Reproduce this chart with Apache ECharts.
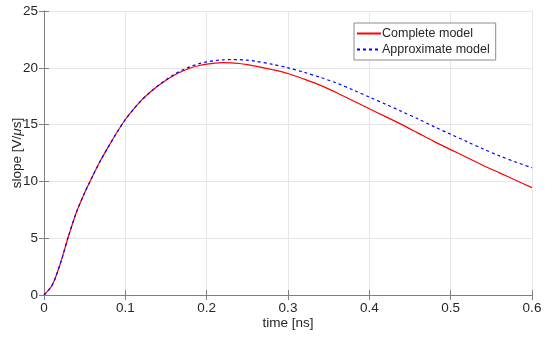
<!DOCTYPE html>
<html><head><meta charset="utf-8">
<script src="https://cdn.jsdelivr.net/npm/echarts@6/dist/echarts.min.js"></script>
<style>html,body{margin:0;padding:0;background:#fff}#c{width:550px;height:338px}</style>
</head><body><div id="c"></div>
<script>
const timeNs = [0, 0.01, 0.02, 0.03, 0.04, 0.05, 0.06, 0.07, 0.08, 0.09, 0.1, 0.11, 0.12, 0.13, 0.14, 0.15, 0.16, 0.17, 0.18, 0.19, 0.2, 0.21, 0.22, 0.23, 0.24, 0.25, 0.26, 0.28, 0.3, 0.32, 0.34, 0.36, 0.38, 0.4, 0.42, 0.44, 0.46, 0.48, 0.5, 0.52, 0.54, 0.56, 0.58, 0.6];
const completeModel = [0, 0.85, 2.75, 5.15, 7.3, 9.0, 10.5, 11.9, 13.15, 14.35, 15.45, 16.35, 17.15, 17.82, 18.4, 18.9, 19.35, 19.7, 19.98, 20.18, 20.32, 20.42, 20.45, 20.44, 20.38, 20.28, 20.15, 19.85, 19.5, 19.0, 18.45, 17.8, 17.1, 16.4, 15.7, 15.0, 14.25, 13.5, 12.8, 12.1, 11.4, 10.75, 10.1, 9.45];
const approximateModel = [0, 0.85, 2.75, 5.15, 7.3, 9.0, 10.5, 11.9, 13.15, 14.35, 15.45, 16.35, 17.15, 17.82, 18.42, 18.95, 19.42, 19.8, 20.1, 20.35, 20.52, 20.63, 20.7, 20.73, 20.72, 20.67, 20.58, 20.32, 20.0, 19.6, 19.15, 18.65, 18.05, 17.42, 16.8, 16.15, 15.5, 14.8, 14.15, 13.5, 12.85, 12.25, 11.7, 11.2];
const xTicks = [0, 0.1, 0.2, 0.3, 0.4, 0.5, 0.6];
const yTicks = [0, 5, 10, 15, 20, 25];

const toPairs = (xs, ys) => xs.map((x, i) => [x, ys[i]]);
const font = '"Liberation Sans", Arial, Helvetica, sans-serif';
const axisColor = '#808080';
const textColor = '#262626';

const chart = echarts.init(document.getElementById('c'));
chart.setOption({
  animation: false,
  grid: { left: 44, right: 18, top: 11, bottom: 43, show: false, containLabel: false, outerBoundsMode: 'none' },
  legend: {
    orient: 'vertical', left: 354, top: 23,
    backgroundColor: '#fff', borderColor: '#8c8c8c', borderWidth: 1, borderRadius: 0,
    padding: [4, 6, 4, 2], itemGap: 3, itemWidth: 24, itemHeight: 10,
    itemStyle: { opacity: 0 },
    textStyle: { fontFamily: font, fontSize: 12.5, color: textColor, padding: [0, 0, 0, -4] },
    data: ['Complete model', 'Approximate model']
  },
  xAxis: [{
    type: 'value', min: xTicks[0], max: xTicks[xTicks.length - 1], interval: 0.1,
    name: 'time [ns]', nameLocation: 'middle', nameGap: 21, nameMoveOverlap: false,
    nameTextStyle: { fontFamily: font, fontSize: 13.5, color: textColor },
    axisLine: { show: true, lineStyle: { color: axisColor, width: 1 } },
    axisTick: { show: true, inside: true, length: 5, lineStyle: { color: axisColor } },
    axisLabel: { fontFamily: font, fontSize: 13.5, color: textColor, margin: 6, formatter: v => String(+v.toFixed(1)) },
    splitLine: { show: true, lineStyle: { color: '#e6e6e6', width: 1 } }
  }, {
    type: 'value', position: 'top', min: xTicks[0], max: xTicks[xTicks.length - 1], interval: 0.1,
    axisLine: { show: true, lineStyle: { color: axisColor, width: 1 } },
    axisTick: { show: true, inside: true, length: 5, lineStyle: { color: axisColor } },
    axisLabel: { show: false }, splitLine: { show: false }
  }],
  yAxis: [{
    type: 'value', min: yTicks[0], max: yTicks[yTicks.length - 1], interval: 5,
    name: '{a|slope [V/}{b|μ}{a|s]}', nameLocation: 'middle', nameGap: 20, nameMoveOverlap: false,
    nameTextStyle: { rich: {
      a: { fontFamily: font, fontSize: 13.5, color: textColor },
      b: { fontFamily: font, fontSize: 13.5, color: textColor, fontStyle: 'italic' } } },
    axisLine: { show: true, lineStyle: { color: axisColor, width: 1 } },
    axisTick: { show: true, inside: true, length: 5, lineStyle: { color: axisColor } },
    axisLabel: { fontFamily: font, fontSize: 13.5, color: textColor, margin: 6 },
    splitLine: { show: true, lineStyle: { color: '#e6e6e6', width: 1 } }
  }, {
    type: 'value', position: 'right', min: yTicks[0], max: yTicks[yTicks.length - 1], interval: 5,
    axisLine: { show: true, lineStyle: { color: axisColor, width: 1 } },
    axisTick: { show: true, inside: true, length: 5, lineStyle: { color: axisColor } },
    axisLabel: { show: false }, splitLine: { show: false }
  }],
  series: [{
    name: 'Complete model', type: 'line', data: toPairs(timeNs, completeModel),
    smooth: 0.3, showSymbol: false, symbol: 'none',
    lineStyle: { color: '#ff0000', width: 1.2 }, itemStyle: { color: '#ff0000' }, z: 3
  }, {
    name: 'Approximate model', type: 'line', data: toPairs(timeNs, approximateModel),
    smooth: 0.3, showSymbol: false, symbol: 'none',
    lineStyle: { color: '#0000ff', width: 1.2, type: [3, 3] }, itemStyle: { color: '#0000ff' }, z: 4
  }]
});
</script></body></html>
